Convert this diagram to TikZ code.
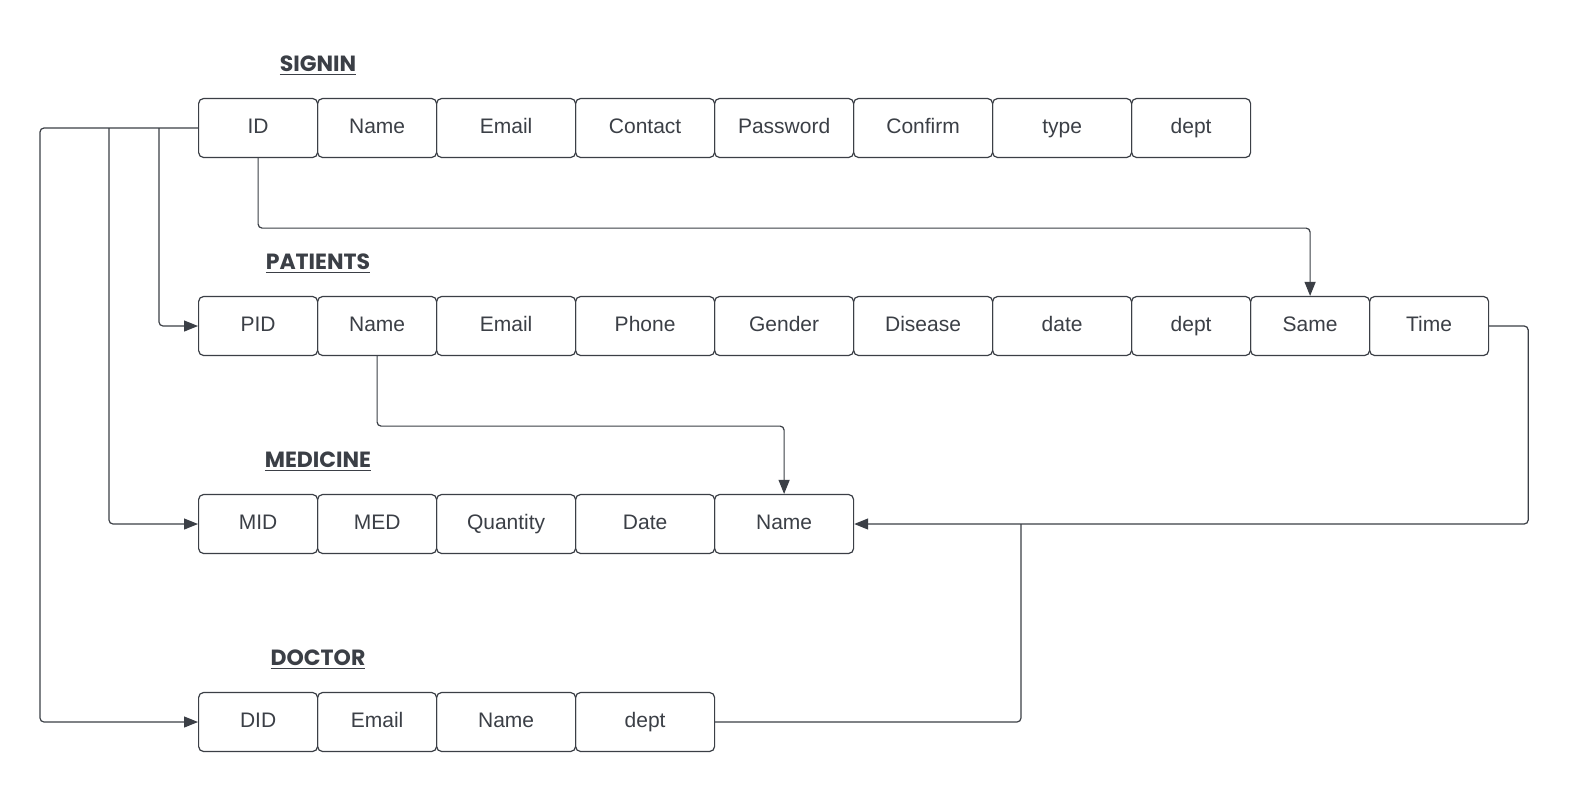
\documentclass[tikz,border=0pt]{standalone}
\usepackage{fontspec}
\setmainfont{Liberation Sans}
\newfontfamily\titlefont{Poppins}
\usetikzlibrary{positioning, arrows.meta}
\definecolor{ink}{HTML}{3B3F46}

\begin{document}
\begin{tikzpicture}[x = 0.5pt, y = -0.5pt]
\useasboundingbox[fill=white] (0, 0) rectangle (1581, 800);
\begin{scope}[
	cell/.style={
		draw=ink, line width=0.6pt, rounded corners=2.5pt,
		minimum height=29.5pt, inner sep=0pt, anchor=west,
		text height=1.6ex, text depth=0.5ex,
		text=ink, font=\fontsize{10.5}{12}\selectfont
	},
	tabtitle/.style={
		text=ink, font=\titlefont\bfseries\fontsize{11}{13}\selectfont
	},
	link/.style={draw=ink, line width=0.6pt, rounded corners=2pt},
	arr/.style={link, -{Triangle[length=7pt, width=5.5pt]}}
]
\node[tabtitle] (t-sig) at (318, 66) {\underline{SIGNIN}};
\node[tabtitle] (t-pat) at (318, 264) {\underline{PATIENTS}};
\node[tabtitle] (t-med) at (318, 462) {\underline{MEDICINE}};
\node[tabtitle] (t-doc) at (318, 660) {\underline{DOCTOR}};

\foreach \i/\x/\w/\txt in {1/198/119/ID, 2/317/119/Name, 3/436/139/Email, 4/575/139/Contact, 5/714/139/Password, 6/853/139/Confirm, 7/992/139/type, 8/1131/119/dept} {
	\node[cell, minimum width=\w*0.5pt] (sig-\i) at (\x, 128) {\txt};
}
\foreach \i/\x/\w/\txt in {1/198/119/PID, 2/317/119/Name, 3/436/139/Email, 4/575/139/Phone, 5/714/139/Gender, 6/853/139/Disease, 7/992/139/date, 8/1131/119/dept, 9/1250/119/Same, 10/1369/119/Time} {
	\node[cell, minimum width=\w*0.5pt] (pat-\i) at (\x, 326) {\txt};
}
\foreach \i/\x/\w/\txt in {1/198/119/MID, 2/317/119/MED, 3/436/139/Quantity, 4/575/139/Date, 5/714/139/Name} {
	\node[cell, minimum width=\w*0.5pt] (med-\i) at (\x, 524) {\txt};
}
\foreach \i/\x/\w/\txt in {1/198/119/DID, 2/317/119/Email, 3/436/139/Name, 4/575/139/dept} {
	\node[cell, minimum width=\w*0.5pt] (doc-\i) at (\x, 722) {\txt};
}

% ID to the other tables
\coordinate (j-pat) at (159, 128);
\coordinate (j-med) at (109, 128);
\draw[arr] (sig-1.west) -- (40, 128) |- (doc-1.west);
\draw[arr] (j-pat) |- (pat-1.west);
\draw[arr] (j-med) |- (med-1.west);
\draw[arr] (sig-1.south) -- ++(0, 70) -| (pat-9.north);

% patient name
\draw[arr] (pat-2.south) -- ++(0, 70) -| (med-5.north);
\draw[arr] (pat-10.east) -- ++(39, 0) |- (med-5.east);
\coordinate (j-doc) at (1021, 524);
\draw[link] (doc-4.east) -| (j-doc);
\end{scope}
\end{tikzpicture}
\end{document}
